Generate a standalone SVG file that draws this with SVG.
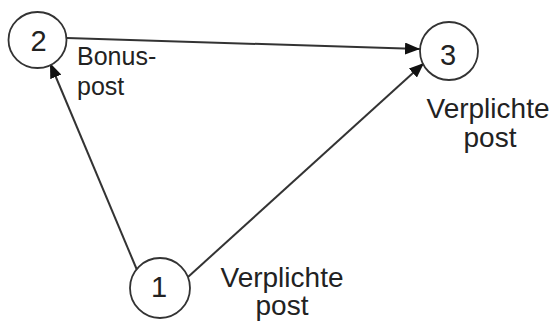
<svg xmlns="http://www.w3.org/2000/svg" width="555" height="322" viewBox="0 0 555 322">
<style>
.node{fill:#fff;stroke:#333;stroke-width:1.8}
.num{font-family:"Liberation Sans",Arial,sans-serif;font-size:29px;fill:#222;text-anchor:middle}
.lbl{font-family:"Liberation Sans",Arial,sans-serif;font-size:28px;fill:#222}
.edge{stroke:#333;stroke-width:2;fill:none;marker-end:url(#ah)}
</style>
<defs>
<marker id="ah" markerWidth="16" markerHeight="12" refX="15" refY="6" orient="auto" markerUnits="userSpaceOnUse" viewBox="0 0 16 12">
<path d="M0,0 L15,6 L0,12 z" fill="#111"/>
</marker>
</defs>
<rect width="555" height="322" fill="#fff"/>
<g id="connectors">
<line class="edge" x1="67" y1="38" x2="420" y2="49"/>
<line class="edge" x1="137" y1="270" x2="50" y2="63"/>
<line class="edge" x1="188" y1="277" x2="424" y2="63"/>
</g>
<g id="n2">
<ellipse class="node" cx="37.5" cy="40" rx="29" ry="28"/>
<text class="num" x="38.5" y="51">2</text>
<text class="lbl" x="77" y="65" style="font-size:25px">Bonus-</text>
<text class="lbl" x="77" y="95" style="font-size:25px">post</text>
</g>
<g id="n3">
<circle class="node" cx="449" cy="51" r="29"/>
<text class="num" x="448" y="65">3</text>
<text class="lbl" x="488" y="118" text-anchor="middle">Verplichte</text>
<text class="lbl" x="490" y="147" text-anchor="middle">post</text>
</g>
<g id="n1">
<circle class="node" cx="160" cy="288" r="30"/>
<text class="num" x="159" y="297">1</text>
<text class="lbl" x="282" y="287" text-anchor="middle">Verplichte</text>
<text class="lbl" x="282" y="315" text-anchor="middle">post</text>
</g>
</svg>
